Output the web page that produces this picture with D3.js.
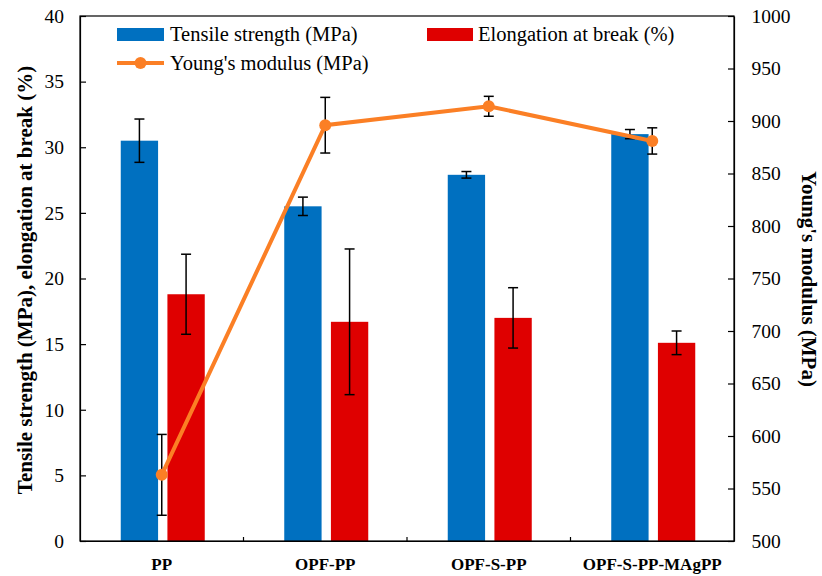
<!DOCTYPE html>
<html>
<head>
<meta charset="utf-8">
<script src="https://cdn.jsdelivr.net/npm/d3@7"></script>
<style>
  body { margin: 0; background: #fff; }
  text { font-family: "Liberation Serif", "Times New Roman", serif; fill: #000; }
</style>
</head>
<body>
<div id="chart"></div>
<script>

var categories = ['PP', 'OPF-PP', 'OPF-S-PP', 'OPF-S-PP-MAgPP'];

var tensile = [30.5, 25.5, 27.9, 31.0];
var tensileErr = [1.65, 0.7, 0.25, 0.35];

var elongation = [18.8, 16.7, 17.0, 15.1];
var elongationErr = [3.05, 5.55, 2.3, 0.9];

var modulus = [563, 896, 914, 881];
var modulusErr = [38.5, 26.5, 9.5, 12.5];

var leftTicks = [0, 5, 10, 15, 20, 25, 30, 35, 40];
var rightTicks = [500, 550, 600, 650, 700, 750, 800, 850, 900, 950, 1000];

var blue = '#0070C0';
var red = '#DF0000';
var orange = '#FB7F25';

var width = 822, height = 576;
var plotLeft = 80, plotRight = 734, plotTop = 16, plotBottom = 541;
var serif = '"Liberation Serif", "Times New Roman", serif';

var svg = d3.select('#chart').append('svg')
    .attr('width', width)
    .attr('height', height);

var x0 = d3.scaleBand().domain(categories).range([plotLeft, plotRight]);
var x1 = d3.scaleBand().domain(['tensile', 'elongation']).range([-41, 43]).paddingInner(0.2);
var yL = d3.scaleLinear().domain([0, 40]).range([plotBottom, plotTop]);
var yR = d3.scaleLinear().domain([500, 1000]).range([plotBottom, plotTop]);

function center(c) { return x0(c) + x0.bandwidth() / 2; }

// bars
var groups = [
    { key: 'tensile', values: tensile, err: tensileErr, color: blue },
    { key: 'elongation', values: elongation, err: elongationErr, color: red }
];

groups.forEach(function(s) {
    svg.append('g').selectAll('rect')
        .data(categories)
        .enter()
        .append('rect')
        .attr('x', function(c) { return center(c) + x1(s.key); })
        .attr('width', x1.bandwidth())
        .attr('y', function(c, i) { return yL(s.values[i]); })
        .attr('height', function(c, i) { return plotBottom - yL(s.values[i]); })
        .attr('fill', s.color);
});

function errorBars(xs, lo, hi) {
    var g = svg.append('g').attr('stroke', '#000').attr('stroke-width', 1.5);
    xs.forEach(function(xv, i) {
        g.append('line').attr('x1', xv).attr('x2', xv).attr('y1', lo[i]).attr('y2', hi[i]);
        g.append('line').attr('x1', xv - 5).attr('x2', xv + 5).attr('y1', lo[i]).attr('y2', lo[i]);
        g.append('line').attr('x1', xv - 5).attr('x2', xv + 5).attr('y1', hi[i]).attr('y2', hi[i]);
    });
}

groups.forEach(function(s) {
    var xs = categories.map(function(c) { return center(c) + x1(s.key) + x1.bandwidth() / 2; });
    errorBars(xs,
        s.values.map(function(v, i) { return yL(v - s.err[i]); }),
        s.values.map(function(v, i) { return yL(v + s.err[i]); }));
});

// modulus error bars, line and markers
errorBars(categories.map(center),
    modulus.map(function(v, i) { return yR(v - modulusErr[i]); }),
    modulus.map(function(v, i) { return yR(v + modulusErr[i]); }));

var line = d3.line()
    .x(function(d, i) { return center(categories[i]); })
    .y(function(d) { return yR(d); });

svg.append('path')
    .datum(modulus)
    .attr('d', line)
    .attr('fill', 'none')
    .attr('stroke', orange)
    .attr('stroke-width', 4);

svg.append('g').selectAll('circle')
    .data(modulus)
    .enter()
    .append('circle')
    .attr('cx', function(d, i) { return center(categories[i]); })
    .attr('cy', function(d) { return yR(d); })
    .attr('r', 6)
    .attr('fill', orange);

// frame and axes
svg.append('rect')
    .attr('x', plotLeft).attr('y', plotTop)
    .attr('width', plotRight - plotLeft).attr('height', plotBottom - plotTop)
    .attr('fill', 'none').attr('stroke', '#000').attr('stroke-width', 1.2);

var axL = svg.append('g')
    .attr('transform', 'translate(' + plotLeft + ',0)')
    .call(d3.axisLeft(yL).tickValues(leftTicks).tickSizeInner(-6).tickSizeOuter(0).tickPadding(16));

var axR = svg.append('g')
    .attr('transform', 'translate(' + plotRight + ',0)')
    .call(d3.axisRight(yR).tickValues(rightTicks).tickFormat(d3.format('d'))
        .tickSizeInner(-6).tickSizeOuter(0).tickPadding(17.5));

var axB = svg.append('g')
    .attr('transform', 'translate(0,' + plotBottom + ')')
    .call(d3.axisBottom(x0).tickSize(0).tickPadding(17));

[axL, axR, axB].forEach(function(a) {
    a.select('.domain').attr('stroke', '#000').attr('stroke-width', 1.2);
    a.selectAll('.tick line').attr('stroke', '#000').attr('stroke-width', 1.2);
    a.selectAll('text').style('font-family', serif).attr('fill', '#000');
});
axL.selectAll('text').attr('font-size', 19.5);
axR.selectAll('text').attr('font-size', 19.5);
axB.selectAll('text').attr('font-size', 17).attr('font-weight', 'bold');

// category separator ticks
svg.append('g').selectAll('line')
    .data(categories.slice(1))
    .enter()
    .append('line')
    .attr('x1', function(c) { return x0(c); })
    .attr('x2', function(c) { return x0(c); })
    .attr('y1', plotBottom)
    .attr('y2', plotBottom - 4)
    .attr('stroke', '#000')
    .attr('stroke-width', 1.2);

// axis titles
svg.append('text')
    .attr('transform', 'translate(32,280) rotate(-90)')
    .attr('text-anchor', 'middle')
    .attr('font-size', 21)
    .attr('font-weight', 'bold')
    .text('Tensile strength (MPa), elongation at break (%)');

svg.append('text')
    .attr('transform', 'translate(802,279) rotate(90)')
    .attr('text-anchor', 'middle')
    .attr('font-size', 21)
    .attr('font-weight', 'bold')
    .text("Young's modulus (MPa)");

// legend
var legend = svg.append('g').attr('font-size', 20.5);

legend.append('rect').attr('x', 117).attr('y', 28).attr('width', 47).attr('height', 13).attr('fill', blue);
legend.append('text').attr('x', 170).attr('y', 41).text('Tensile strength (MPa)');

legend.append('rect').attr('x', 427).attr('y', 28).attr('width', 46).attr('height', 13).attr('fill', red);
legend.append('text').attr('x', 478).attr('y', 41).text('Elongation at break (%)');

legend.append('line').attr('x1', 117).attr('x2', 164).attr('y1', 63).attr('y2', 63)
    .attr('stroke', orange).attr('stroke-width', 4);
legend.append('circle').attr('cx', 140.5).attr('cy', 63).attr('r', 6).attr('fill', orange);
legend.append('text').attr('x', 170).attr('y', 70).text("Young's modulus (MPa)");

</script>
</body>
</html>
